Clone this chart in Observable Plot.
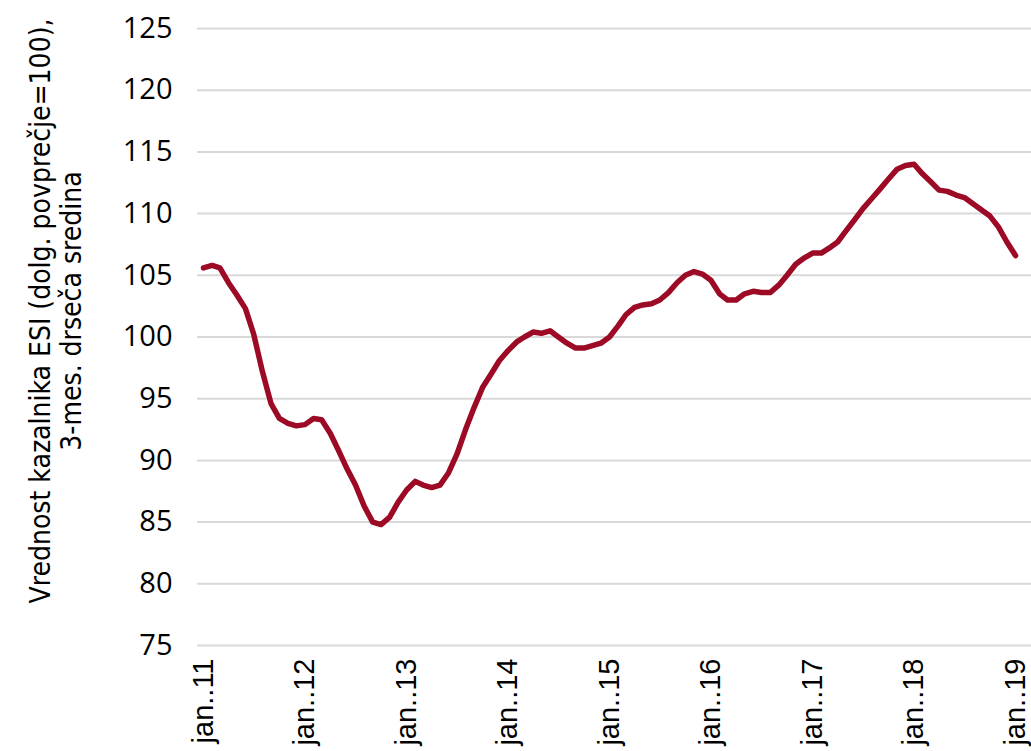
<!DOCTYPE html>
<html>
<head>
<meta charset="utf-8">
<script src="https://cdn.jsdelivr.net/npm/d3@7"></script>
<script src="https://cdn.jsdelivr.net/npm/@observablehq/plot@0.6"></script>
<style>
  html, body { margin: 0; padding: 0; background: #fff; overflow: hidden; }
  #chart svg { display: block; }
</style>
</head>
<body>
<div id="chart"></div>
<script>
// Monthly ESI values (3-month moving average), Jan 2011 – Jan 2019
const startYear = 2011;
const esi = [
  105.6, 105.8, 105.6, 104.4, 103.4, 102.3, 100.2, 97.2, 94.6, 93.4, 93.0, 92.8,   // 2011
  92.9, 93.4, 93.3, 92.2, 90.8, 89.3, 88.0, 86.3, 85.0, 84.8, 85.4, 86.6,          // 2012
  87.6, 88.3, 88.0, 87.8, 88.0, 89.0, 90.5, 92.5, 94.3, 95.9, 97.0, 98.1,          // 2013
  98.9, 99.6, 100.0, 100.4, 100.3, 100.5, 100.0, 99.5, 99.1, 99.1, 99.3, 99.5,     // 2014
  100.0, 100.9, 101.8, 102.4, 102.6, 102.7, 103.0, 103.6, 104.4, 105.0, 105.3, 105.1, // 2015
  104.6, 103.5, 103.0, 103.0, 103.5, 103.7, 103.6, 103.6, 104.2, 105.0, 105.9, 106.4, // 2016
  106.8, 106.8, 107.2, 107.7, 108.6, 109.5, 110.4, 111.2, 112.0, 112.8, 113.6, 113.9, // 2017
  114.0, 113.2, 112.6, 111.9, 111.8, 111.5, 111.3, 110.8, 110.3, 109.8, 108.9, 107.7, // 2018
  106.6                                                                             // 2019
];
const tickYears = [2011, 2012, 2013, 2014, 2015, 2016, 2017, 2018, 2019];
const tickLabels = ["jan..11", "jan..12", "jan..13", "jan..14", "jan..15", "jan..16", "jan..17", "jan..18", "jan..19"];
const yTicks = [75, 80, 85, 90, 95, 100, 105, 110, 115, 120, 125];
const yLabel = "Vrednost kazalnika ESI (dolg. povprečje=100),\n3-mes. drseča sredina";

const data = esi.map((v, i) => ({date: d3.utcMonth.offset(new Date(Date.UTC(startYear, 0, 1)), i), value: v}));
const tickDates = tickYears.map(y => new Date(Date.UTC(y, 0, 1)));
const labelOf = new Map(tickDates.map((d, i) => [+d, tickLabels[i]]));

const chart = Plot.plot({
  width: 1031,
  height: 751,
  marginLeft: 203,
  marginRight: 16,
  marginTop: 28,
  marginBottom: 106,
  style: {background: "#fff", color: "#000"},
  x: {type: "utc", domain: [tickDates[0], tickDates[tickDates.length - 1]]},
  y: {domain: [75, 125]},
  marks: [
    Plot.ruleY(yTicks, {stroke: "#d9d9d9", strokeWidth: 2, insetLeft: -6, insetRight: -16}),
    Plot.axisY({
      ticks: yTicks, tickSize: 0, tickPadding: 31, label: null,
      fontSize: 29, fontFamily: "'Open Sans', sans-serif"
    }),
    Plot.axisX({
      ticks: tickDates, tickSize: 0, tickPadding: 13, tickRotate: -90, label: null,
      tickFormat: d => labelOf.get(+d),
      fontSize: 29, fontFamily: "'Liberation Sans', Arial, sans-serif"
    }),
    Plot.lineY(data, {x: "date", y: "value", stroke: "#9c0a25", strokeWidth: 5.5, strokeLinejoin: "round", strokeLinecap: "round"}),
    Plot.text([yLabel], {
      frameAnchor: "left", dx: -148, dy: -26, rotate: -90,
      fontSize: 28, lineAnchor: "middle", textAnchor: "middle", lineHeight: 1.1,
      fontFamily: "'Liberation Sans Narrow', 'DejaVu Sans Condensed', sans-serif", fill: "#000"
    })
  ]
});
document.getElementById("chart").appendChild(chart);
</script>
</body>
</html>
